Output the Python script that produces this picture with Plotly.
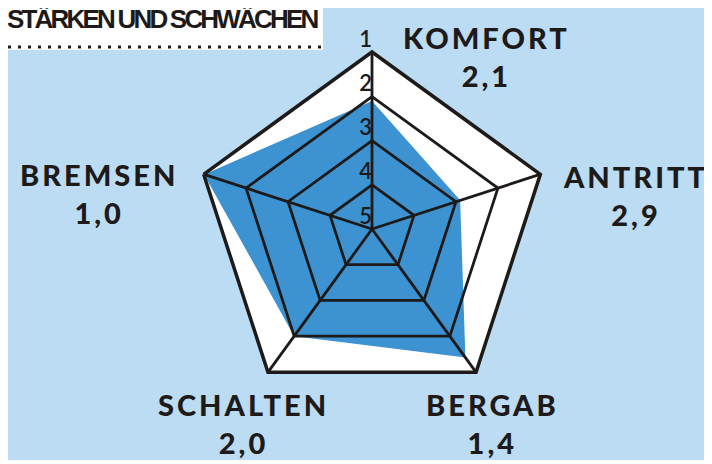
import plotly.graph_objects as go

# Werte aus der Grafik (Schulnoten: 1 = sehr gut, 5 = schlecht)
KATEGORIEN = ["KOMFORT", "ANTRITT", "BERGAB", "SCHALTEN", "BREMSEN"]
NOTEN = [2.1, 2.9, 1.4, 2.0, 1.0]
STUFEN = [1, 2, 3, 4, 5]
STUFEN_TEXT = ["1", "2", "3", "4", "5"]

TITEL = "STÄRKEN UND SCHWÄCHEN"

# Die Seite hat 8 px Rand, die Grafik wird darum kleiner angelegt
RAND = 8
W, H = 712 - RAND, 464 - RAND

BLAU_HELL = "#bcdcf3"
BLAU = "#3d92d1"
SCHWARZ = "#1d1a19"

# Position der Beschriftungen in Bildpixeln (Mitte des zweizeiligen Blocks)
LABEL_POS = {
    "KOMFORT": (486, 56),
    "ANTRITT": (635, 195),
    "BERGAB": (492, 423),
    "SCHALTEN": (243, 423),
    "BREMSEN": (99, 193),
}

# Mittelpunkt und Radius des Netzes in Bildpixeln
MITTE_X, MITTE_Y, RADIUS = 372, 229, 177


def px_x(x: float) -> float:
    return (x - RAND) / W


def px_y(y: float) -> float:
    return 1 - (y - RAND) / H


def note_de(wert: float) -> str:
    return f"{wert:.1f}".replace(".", ",")


def gesperrt(text: str, abstand: float = 3) -> str:
    return f"<span style='letter-spacing:{abstand}px'>{text}</span>"


fig = go.Figure()

ring_theta = KATEGORIEN + KATEGORIEN[:1]

# Blaue Fläche
fig.add_trace(
    go.Scatterpolar(
        r=NOTEN + NOTEN[:1],
        theta=ring_theta,
        mode="lines",
        fill="toself",
        fillcolor=BLAU,
        line=dict(color=BLAU, width=0),
        hoverinfo="skip",
    )
)

# Innere Ringe über der Fläche
for stufe in STUFEN[1:-1]:
    fig.add_trace(
        go.Scatterpolar(
            r=[stufe] * len(ring_theta),
            theta=ring_theta,
            mode="lines",
            line=dict(color=SCHWARZ, width=2.8),
            hoverinfo="skip",
        )
    )

# Speichen
for kat in KATEGORIEN:
    fig.add_trace(
        go.Scatterpolar(
            r=[STUFEN[-1], STUFEN[0]],
            theta=[kat, kat],
            mode="lines",
            line=dict(color=SCHWARZ, width=2.8),
            hoverinfo="skip",
        )
    )

# Skalenzahlen an der senkrechten Achse
fig.add_trace(
    go.Scatterpolar(
        r=STUFEN,
        theta=[KATEGORIEN[0]] * len(STUFEN),
        mode="text",
        text=STUFEN_TEXT,
        textposition="top left",
        textfont=dict(family="Lato, sans-serif", size=22, color=SCHWARZ, weight=600),
        cliponaxis=False,
        hoverinfo="skip",
    )
)

annotations = [
    dict(
        text=f"<span style='letter-spacing:-2.8px'>{TITEL}</span>",
        x=px_x(5),
        y=px_y(19),
        xref="paper",
        yref="paper",
        xanchor="left",
        yanchor="middle",
        showarrow=False,
        font=dict(family="Liberation Sans, Arial, sans-serif", size=26, color=SCHWARZ, weight="bold"),
    )
]

for kat, note in zip(KATEGORIEN, NOTEN):
    lx, ly = LABEL_POS[kat]
    annotations.append(
        dict(
            text=f"{gesperrt(kat)}<br>{gesperrt(note_de(note))}",
            x=px_x(lx),
            y=px_y(ly),
            xref="paper",
            yref="paper",
            xanchor="center",
            yanchor="middle",
            align="center",
            showarrow=False,
            font=dict(family="Lato, sans-serif", size=29, color=SCHWARZ, weight=900),
        )
    )

shapes = [
    # hellblauer Hintergrund
    dict(
        type="rect",
        xref="paper",
        yref="paper",
        x0=0,
        x1=px_x(708),
        y0=px_y(460),
        y1=1,
        fillcolor=BLAU_HELL,
        line=dict(width=0),
        layer="below",
    ),
    # weißer Titelkasten
    dict(
        type="rect",
        xref="paper",
        yref="paper",
        x0=0,
        x1=px_x(323),
        y0=px_y(50),
        y1=1,
        fillcolor="white",
        line=dict(width=0),
        layer="below",
    ),
    # gepunktete Linie unter dem Titel
    dict(
        type="line",
        xref="paper",
        yref="paper",
        x0=px_x(8),
        x1=px_x(322),
        y0=px_y(47),
        y1=px_y(47),
        line=dict(color=SCHWARZ, width=3, dash="3px,7px"),
    ),
]

fig.update_layout(
    width=W,
    height=H,
    margin=dict(l=0, r=0, t=0, b=0),
    paper_bgcolor="white",
    showlegend=False,
    annotations=annotations,
    shapes=shapes,
    polar=dict(
        domain=dict(
            x=[px_x(MITTE_X - RADIUS), px_x(MITTE_X + RADIUS)],
            y=[px_y(MITTE_Y + RADIUS), px_y(MITTE_Y - RADIUS)],
        ),
        bgcolor="white",
        gridshape="linear",
        radialaxis=dict(
            range=[5, 0.99],
            showticklabels=False,
            showgrid=False,
            showline=False,
            ticks="",
        ),
        angularaxis=dict(
            rotation=90,
            direction="clockwise",
            showticklabels=False,
            ticks="",
            showgrid=False,
            showline=True,
            linecolor=SCHWARZ,
            linewidth=3.5,
            layer="above traces",
        ),
    ),
)

fig.write_html("out.html")
